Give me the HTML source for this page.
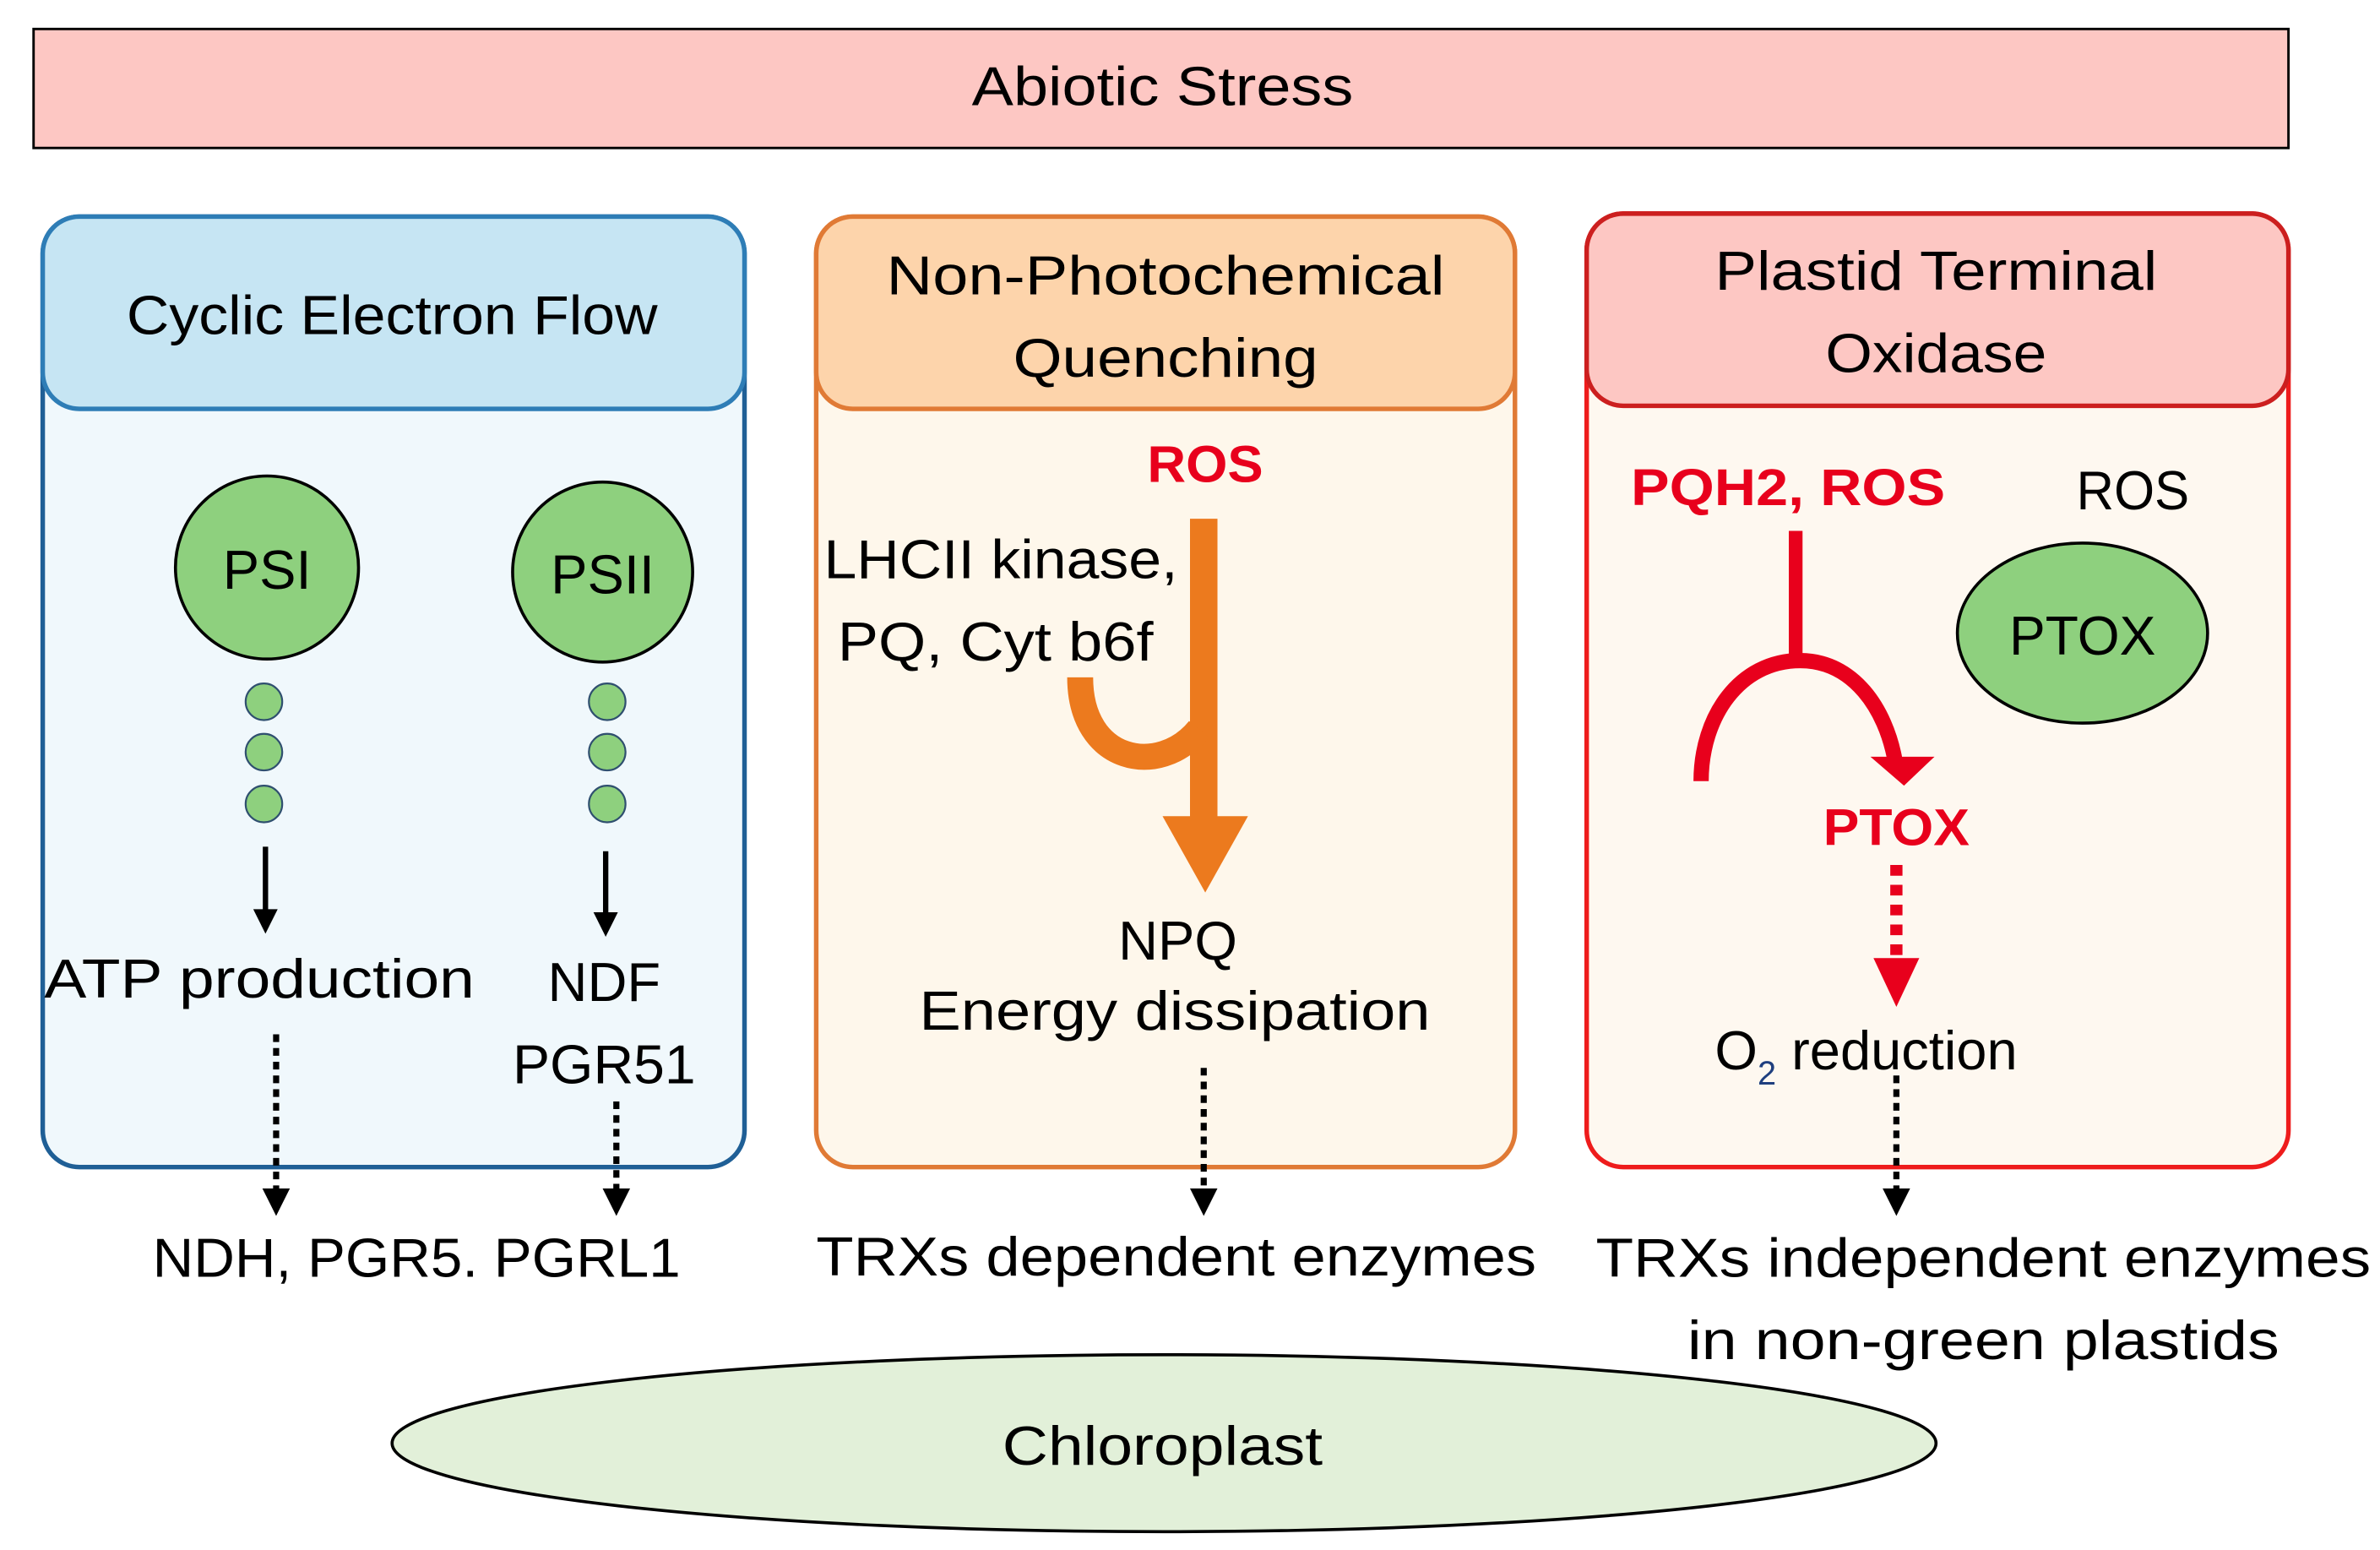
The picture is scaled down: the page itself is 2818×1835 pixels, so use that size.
<!DOCTYPE html>
<html><head><meta charset="utf-8"><style>html,body{margin:0;padding:0;background:#fff}svg{display:block}</style></head>
<body>
<svg width="2818" height="1835" viewBox="0 0 1560 1016" preserveAspectRatio="none" xmlns="http://www.w3.org/2000/svg" font-family="Liberation Sans, sans-serif">
<rect x="22" y="19" width="1478" height="78" fill="#fdc7c3" stroke="#000" stroke-width="1.6"/>
<text x="762" y="69" font-size="36" text-anchor="middle" textLength="250" lengthAdjust="spacingAndGlyphs">Abiotic Stress</text>

<!-- Panel 1 -->
<rect x="28" y="142" width="460" height="623" rx="24" fill="#f0f8fc" stroke="#1f5f96" stroke-width="3"/>
<rect x="28" y="142" width="460" height="126" rx="24" fill="#c6e5f3" stroke="#2e7db6" stroke-width="3"/>
<text x="257" y="219" font-size="36" text-anchor="middle" textLength="348" lengthAdjust="spacingAndGlyphs">Cyclic Electron Flow</text>
<circle cx="175" cy="372" r="60" fill="#8ed07e" stroke="#000" stroke-width="2"/>
<text x="175" y="386" font-size="36" text-anchor="middle">PSI</text>
<circle cx="395" cy="375" r="59" fill="#8ed07e" stroke="#000" stroke-width="2"/>
<text x="395" y="389" font-size="36" text-anchor="middle">PSII</text>
<g fill="#8ed07e" stroke="#2f4f6f" stroke-width="1.2">
<circle cx="173" cy="460" r="12"/><circle cx="173" cy="493" r="12"/><circle cx="173" cy="527" r="12"/>
<circle cx="398" cy="460" r="12"/><circle cx="398" cy="493" r="12"/><circle cx="398" cy="527" r="12"/>
</g>
<line x1="174" y1="555" x2="174" y2="598" stroke="#000" stroke-width="3.5"/>
<path d="M166,596 L182,596 L174,612 Z" fill="#000"/>
<line x1="397" y1="558" x2="397" y2="600" stroke="#000" stroke-width="3.5"/>
<path d="M389,598 L405,598 L397,614 Z" fill="#000"/>
<text x="170" y="654" font-size="36" text-anchor="middle" textLength="282" lengthAdjust="spacingAndGlyphs">ATP production</text>
<text x="396" y="656" font-size="36" text-anchor="middle">NDF</text>
<text x="396" y="710" font-size="36" text-anchor="middle" textLength="120" lengthAdjust="spacingAndGlyphs">PGR51</text>
<line x1="181" y1="678" x2="181" y2="780" stroke="#000" stroke-width="4" stroke-dasharray="5,4"/>
<path d="M172,779 L190,779 L181,797 Z" fill="#000"/>
<line x1="404" y1="722" x2="404" y2="780" stroke="#000" stroke-width="4" stroke-dasharray="5,4"/>
<path d="M395,779 L413,779 L404,797 Z" fill="#000"/>
<text x="273" y="837" font-size="36" text-anchor="middle" textLength="346" lengthAdjust="spacingAndGlyphs">NDH, PGR5. PGRL1</text>

<!-- Panel 2 -->
<rect x="535" y="142" width="458" height="623" rx="24" fill="#fef7eb" stroke="#e07a35" stroke-width="3"/>
<rect x="535" y="142" width="458" height="126" rx="24" fill="#fdd4ab" stroke="#e07a35" stroke-width="3"/>
<text x="764" y="193" font-size="36" text-anchor="middle" textLength="366" lengthAdjust="spacingAndGlyphs">Non-Photochemical</text>
<text x="764" y="247" font-size="36" text-anchor="middle" textLength="200" lengthAdjust="spacingAndGlyphs">Quenching</text>
<text x="790" y="316" font-size="34" font-weight="bold" fill="#e8001c" text-anchor="middle" textLength="76" lengthAdjust="spacingAndGlyphs">ROS</text>
<text x="540" y="379" font-size="36" textLength="232" lengthAdjust="spacingAndGlyphs">LHCII kinase,</text>
<text x="549" y="433" font-size="36" textLength="207" lengthAdjust="spacingAndGlyphs">PQ, Cyt b6f</text>
<path d="M780,340 L798,340 L798,535 L818,535 L790,585 L762,535 L780,535 Z" fill="#ec7a1e"/>
<path d="M708,444 C708,500 760,510 786,478" fill="none" stroke="#ec7a1e" stroke-width="17"/>
<text x="772" y="629" font-size="36" text-anchor="middle">NPQ</text>
<text x="770" y="675" font-size="36" text-anchor="middle" textLength="335" lengthAdjust="spacingAndGlyphs">Energy dissipation</text>
<line x1="789" y1="700" x2="789" y2="780" stroke="#000" stroke-width="4" stroke-dasharray="5,4"/>
<path d="M780,779 L798,779 L789,797 Z" fill="#000"/>
<text x="771" y="836" font-size="36" text-anchor="middle" textLength="472" lengthAdjust="spacingAndGlyphs">TRXs dependent enzymes</text>

<!-- Panel 3 -->
<rect x="1040" y="140" width="460" height="625" rx="24" fill="#fef8f0" stroke="#ee1c1c" stroke-width="3"/>
<rect x="1040" y="140" width="460" height="126" rx="24" fill="#fdc7c3" stroke="#cc1f1f" stroke-width="3"/>
<text x="1269" y="190" font-size="36" text-anchor="middle" textLength="290" lengthAdjust="spacingAndGlyphs">Plastid Terminal</text>
<text x="1269" y="244" font-size="36" text-anchor="middle" textLength="145" lengthAdjust="spacingAndGlyphs">Oxidase</text>
<text x="1172" y="331" font-size="34" font-weight="bold" fill="#e8001c" text-anchor="middle" textLength="206" lengthAdjust="spacingAndGlyphs">PQH2, ROS</text>
<text x="1398" y="334" font-size="36" text-anchor="middle" textLength="74" lengthAdjust="spacingAndGlyphs">ROS</text>
<ellipse cx="1365" cy="415" rx="82" ry="59" fill="#8ed07e" stroke="#000" stroke-width="2"/>
<text x="1365" y="429" font-size="36" text-anchor="middle" textLength="96" lengthAdjust="spacingAndGlyphs">PTOX</text>
<line x1="1177" y1="348" x2="1177" y2="436" stroke="#e8001c" stroke-width="9"/>
<path d="M1115,512 C1115,470 1140,433 1180,433 C1215,433 1236,465 1242,498" fill="none" stroke="#e8001c" stroke-width="10"/>
<path d="M1226,496 L1268,496 L1248,515 Z" fill="#e8001c"/>
<text x="1243" y="554" font-size="34" font-weight="bold" fill="#e8001c" text-anchor="middle" textLength="96" lengthAdjust="spacingAndGlyphs">PTOX</text>
<line x1="1243" y1="567" x2="1243" y2="632" stroke="#e8001c" stroke-width="8" stroke-dasharray="7,6"/>
<path d="M1228,628 L1258,628 L1243,660 Z" fill="#e8001c"/>
<text x="1124" y="701" font-size="36">O<tspan font-size="22" dy="10" fill="#1f3f7f">2</tspan><tspan dy="-10"> reduction</tspan></text>
<line x1="1243" y1="705" x2="1243" y2="780" stroke="#000" stroke-width="4" stroke-dasharray="5,4"/>
<path d="M1234,779 L1252,779 L1243,797 Z" fill="#000"/>
<text x="1300" y="837" font-size="36" text-anchor="middle" textLength="508" lengthAdjust="spacingAndGlyphs">TRXs independent enzymes</text>
<text x="1300" y="891" font-size="36" text-anchor="middle" textLength="388" lengthAdjust="spacingAndGlyphs">in non-green plastids</text>

<ellipse cx="763" cy="946" rx="506" ry="58" fill="#e2f0d9" stroke="#000" stroke-width="2"/>
<text x="762" y="960" font-size="36" text-anchor="middle" textLength="210" lengthAdjust="spacingAndGlyphs">Chloroplast</text>
</svg>
</body></html>
